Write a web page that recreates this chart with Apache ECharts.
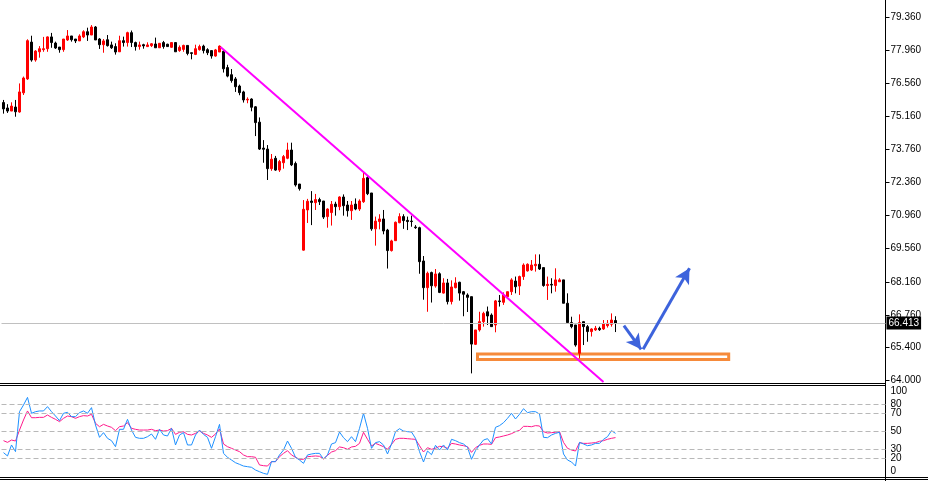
<!DOCTYPE html>
<html>
<head>
    <meta charset="utf-8">
    <title>Price chart</title>
    <script src="https://cdn.jsdelivr.net/npm/echarts@6/dist/echarts.min.js"></script>
    <style>
        html, body { margin: 0; padding: 0; background: #fff; }
        #main { width: 928px; height: 481px; }
    </style>
</head>
<body>
<div id="main"></div>
<script type="text/javascript">

    // candle values (open / close / low / high), one per bar
    var openPrices = [75.75, 75.52, 75.39, 75.56, 75.35, 76.16, 76.75, 78.31, 77.55, 77.90,
        77.99, 78.03, 78.53, 78.27, 78.10, 77.99, 78.40, 78.57, 78.44, 78.36,
        78.53, 78.75, 78.61, 78.95, 78.44, 78.20, 78.41, 78.19, 78.12, 77.90,
        78.37, 78.29, 78.71, 78.29, 78.12, 78.20, 78.12, 78.16, 78.23, 78.07,
        78.29, 78.22, 78.09, 78.29, 77.95, 78.00, 78.17, 77.86, 77.79, 77.99,
        78.14, 77.99, 77.95, 77.72, 77.89, 77.92, 77.23, 76.93, 76.75, 76.45,
        76.20, 75.86, 75.90, 75.57, 74.92, 73.82, 73.78, 72.95, 73.39, 72.89,
        73.20, 73.39, 73.74, 73.17, 72.30, 69.50, 71.20, 71.58, 71.51, 71.64,
        71.58, 70.92, 71.09, 71.45, 71.34, 71.75, 71.41, 71.17, 71.45, 71.24,
        71.55, 72.57, 71.92, 70.40, 70.71, 70.82, 70.35, 69.48, 69.90, 70.66,
        70.92, 70.76, 70.73, 70.48, 70.45, 69.04, 67.91, 68.55, 67.98, 68.50,
        67.68, 68.11, 67.32, 67.91, 68.14, 67.74, 67.60, 67.53, 65.51, 66.12,
        66.47, 66.89, 66.75, 66.33, 67.35, 67.29, 67.53, 67.74, 68.19, 67.98,
        68.38, 68.62, 68.66, 68.84, 68.90, 68.76, 68.00, 68.05, 68.00, 68.16,
        68.24, 67.25, 66.43, 66.33, 65.13, 66.47, 66.26, 66.05, 66.12, 66.19,
        66.16, 66.30, 66.36, 66.52];
    var closePrices = [75.48, 75.39, 75.60, 75.36, 76.20, 76.79, 78.37, 77.55, 77.93, 78.03,
        78.03, 78.53, 78.29, 78.06, 77.99, 78.44, 78.57, 78.41, 78.36, 78.57,
        78.75, 78.61, 78.95, 78.40, 78.20, 78.36, 78.16, 78.07, 77.89, 78.37,
        78.29, 78.71, 78.29, 78.12, 78.19, 78.15, 78.19, 78.24, 78.07, 78.26,
        78.12, 78.12, 78.29, 77.90, 78.09, 78.17, 77.83, 77.83, 78.03, 78.12,
        77.95, 77.86, 77.72, 77.98, 78.14, 77.18, 76.87, 76.68, 76.42, 76.17,
        75.86, 75.89, 75.55, 74.90, 73.78, 73.77, 72.95, 73.35, 72.89, 73.25,
        73.46, 73.74, 73.11, 72.26, 72.10, 71.23, 71.57, 71.52, 71.64, 71.55,
        70.90, 71.24, 71.44, 71.34, 71.75, 71.38, 71.17, 71.41, 71.24, 71.58,
        72.54, 71.89, 70.40, 70.73, 70.82, 70.31, 69.48, 69.89, 70.68, 70.92,
        70.75, 70.71, 70.71, 70.45, 69.01, 67.91, 68.52, 67.99, 68.49, 67.71,
        68.11, 67.32, 67.94, 68.11, 67.68, 67.63, 67.50, 65.52, 66.12, 66.47,
        66.82, 66.71, 66.26, 67.35, 67.32, 67.60, 67.74, 68.24, 67.95, 68.38,
        68.87, 68.90, 68.87, 68.90, 68.70, 68.00, 68.05, 68.02, 68.24, 68.24,
        67.25, 66.43, 66.26, 65.48, 66.43, 66.26, 66.05, 66.16, 66.19, 66.13,
        66.37, 66.40, 66.54, 66.41];
    var lowPrices = [75.28, 75.31, 75.39, 75.15, 75.32, 76.07, 76.71, 77.48, 77.48, 77.65,
        77.90, 77.90, 78.07, 78.02, 77.86, 77.90, 78.36, 78.33, 78.27, 78.36,
        78.48, 78.36, 78.61, 78.40, 78.02, 77.86, 78.12, 78.02, 77.78, 77.90,
        78.12, 78.12, 78.10, 77.95, 77.99, 78.03, 78.10, 78.10, 78.07, 78.07,
        78.03, 78.12, 78.07, 77.90, 77.90, 77.90, 77.75, 77.58, 77.76, 77.95,
        77.83, 77.76, 77.61, 77.69, 77.89, 77.02, 76.82, 76.59, 76.20, 76.06,
        75.75, 75.72, 75.38, 74.33, 73.74, 73.20, 72.47, 72.86, 72.86, 72.81,
        72.95, 73.35, 73.06, 72.19, 72.02, 69.48, 70.65, 70.56, 71.20, 71.41,
        70.82, 70.45, 70.54, 70.96, 71.19, 70.96, 70.92, 70.78, 71.19, 71.16,
        71.50, 71.83, 70.32, 69.69, 70.38, 70.17, 68.72, 69.44, 69.89, 70.64,
        70.40, 70.35, 70.49, 70.40, 68.50, 67.40, 66.89, 67.28, 67.91, 67.68,
        67.66, 67.20, 67.20, 67.88, 67.36, 66.70, 66.88, 64.28, 65.48, 66.05,
        66.26, 66.33, 66.26, 66.02, 67.11, 67.18, 67.46, 67.60, 67.67, 67.60,
        68.24, 68.59, 68.62, 68.59, 68.66, 67.95, 67.39, 67.67, 67.74, 68.16,
        67.25, 66.40, 66.19, 65.41, 64.92, 65.48, 65.62, 65.84, 66.08, 66.08,
        66.12, 66.22, 66.26, 66.03];
    var highPrices = [75.86, 75.68, 75.76, 75.86, 76.56, 76.85, 78.43, 78.58, 77.97, 78.14,
        78.53, 78.55, 78.70, 78.33, 78.10, 78.44, 78.82, 78.57, 78.44, 78.64,
        78.81, 78.92, 79.03, 78.99, 78.48, 78.44, 78.61, 78.33, 78.26, 78.58,
        78.54, 78.75, 78.80, 78.33, 78.33, 78.24, 78.30, 78.27, 78.50, 78.27,
        78.36, 78.24, 78.31, 78.31, 78.17, 78.20, 78.17, 77.86, 78.20, 78.20,
        78.20, 78.05, 77.95, 78.02, 78.17, 78.00, 77.35, 77.17, 76.83, 76.51,
        76.25, 75.97, 75.93, 75.60, 75.12, 74.16, 73.95, 73.57, 73.49, 73.32,
        73.53, 74.05, 74.05, 73.25, 72.30, 71.62, 71.67, 72.00, 71.88, 71.72,
        71.58, 71.27, 71.58, 71.55, 71.78, 71.86, 71.58, 71.58, 71.69, 71.65,
        72.79, 72.68, 71.92, 70.92, 71.02, 71.20, 70.40, 69.94, 70.71, 71.06,
        71.02, 70.92, 70.96, 70.56, 70.49, 69.25, 68.59, 68.59, 68.70, 68.56,
        68.31, 68.28, 68.22, 68.35, 68.16, 67.77, 67.67, 67.53, 66.12, 66.89,
        66.89, 67.11, 66.82, 67.39, 67.60, 67.71, 67.74, 68.31, 68.38, 68.42,
        68.94, 68.94, 69.08, 69.32, 69.32, 68.76, 68.38, 68.31, 68.73, 68.31,
        68.24, 67.67, 66.68, 66.33, 66.78, 66.47, 66.33, 66.19, 66.29, 66.26,
        66.54, 66.54, 66.82, 66.70];

    // oscillator panel: main line (blue) and its smoothed line (pink)
    var rsiValues = [26.3, 22.6, 34.8, 27.4, 71.8, 79.2, 87.7, 70.0, 71.8, 72.6,
        72.6, 77.4, 71.8, 67.0, 61.8, 70.0, 71.1, 66.3, 66.3, 70.7,
        72.6, 70.0, 76.3, 57.0, 43.3, 48.5, 42.2, 39.6, 32.9, 52.2,
        52.2, 63.3, 51.4, 43.3, 42.2, 42.2, 44.0, 47.0, 41.1, 52.2,
        45.9, 44.8, 53.3, 34.8, 45.9, 48.5, 34.8, 34.8, 45.9, 51.4,
        46.6, 43.3, 31.1, 44.0, 57.7, 25.5, 21.1, 18.1, 15.1, 13.3,
        11.4, 10.7, 10.0, 7.0, 5.1, 3.3, 2.2, 16.3, 16.3, 23.7,
        29.2, 39.2, 31.1, 21.1, 18.1, 14.4, 23.7, 24.8, 25.5, 25.5,
        19.2, 23.7, 35.9, 37.4, 49.2, 42.9, 38.5, 44.0, 38.5, 53.3,
        70.0, 53.3, 31.1, 37.4, 38.5, 34.8, 24.8, 35.9, 49.6, 52.9,
        50.3, 49.6, 49.2, 42.2, 27.4, 15.9, 28.1, 24.0, 34.4, 29.2,
        34.8, 29.2, 41.1, 39.6, 37.4, 35.9, 32.2, 18.9, 28.5, 34.8,
        40.3, 41.8, 35.9, 54.4, 56.3, 59.6, 64.4, 70.0, 63.7, 68.9,
        75.1, 70.7, 71.8, 71.8, 69.2, 43.3, 42.9, 45.9, 47.7, 48.9,
        24.8, 18.1, 15.9, 11.4, 37.7, 35.9, 34.0, 34.8, 36.6, 36.6,
        41.1, 44.0, 50.7, 47.7];
    var rsiSignal = [39.6, 37.7, 40.3, 39.2, 51.4, 62.6, 72.6, 65.1, 65.1, 65.5,
        65.5, 68.1, 65.5, 63.3, 60.7, 64.4, 67.0, 66.3, 64.4, 66.3,
        67.4, 67.0, 68.9, 58.9, 55.1, 57.7, 55.9, 54.4, 50.7, 55.1,
        55.9, 59.6, 53.3, 52.2, 51.4, 51.4, 51.4, 52.2, 50.7, 51.4,
        50.3, 50.7, 53.3, 46.6, 48.9, 49.6, 46.6, 45.9, 47.7, 50.3,
        47.7, 45.9, 43.3, 47.0, 52.6, 35.9, 32.9, 31.1, 29.2, 27.4,
        23.7, 21.8, 21.8, 21.1, 12.6, 11.8, 11.4, 16.3, 16.3, 21.8,
        25.5, 28.5, 23.7, 21.1, 18.9, 18.9, 21.8, 22.2, 22.6, 22.2,
        19.2, 23.3, 27.0, 28.5, 32.6, 31.8, 30.0, 32.6, 33.3, 36.6,
        48.9, 41.1, 33.7, 36.6, 34.8, 32.9, 30.0, 35.5, 41.1, 42.2,
        42.2, 41.8, 41.4, 41.1, 34.0, 27.0, 31.8, 30.0, 31.1, 33.3,
        32.9, 31.1, 36.6, 35.9, 34.8, 34.0, 32.9, 26.6, 31.8, 34.4,
        35.9, 35.9, 35.5, 42.9, 43.7, 44.8, 45.9, 47.4, 49.6, 51.1,
        55.5, 55.5, 55.1, 56.3, 55.9, 49.6, 48.1, 48.5, 48.9, 49.6,
        37.7, 31.1, 29.2, 28.1, 37.4, 36.6, 36.6, 37.0, 37.4, 38.9,
        39.6, 41.1, 42.2, 43.0];

    // axis ticks
    var priceTicks = [64.000, 65.400, 66.760, 68.160, 69.560, 70.960, 72.360, 73.760, 75.160, 76.560, 77.960, 79.360];
    var rsiTicks = [0, 20, 30, 50, 70, 80, 100];
    var rsiLevels = [20, 30, 50, 70, 80];
    var lastPrice = 66.413;

    // hand drawn objects, in [bar index, price]
    var trendLine = [[54.25, 78.105], [150, 63.915]];
    var supportBox = [[118.5, 65.10], [181.3, 64.868]];
    var arrowDown = [[155.1, 66.30], [159.4, 65.30]];
    var arrowUp = [[159.9, 65.30], [171.5, 68.73]];

    var slotCount = 221;
    var slots = [];
    for (var i = 0; i < slotCount; i++) {
        slots.push(String(i));
    }
    var candles = [];
    for (var i = 0; i < openPrices.length; i++) {
        candles.push([openPrices[i], closePrices[i], lowPrices[i], highPrices[i]]);
    }

    var fontFamily = 'Liberation Sans';
    var chart = echarts.init(document.getElementById('main'));

    var option = {
        animation: false,
        backgroundColor: '#ffffff',
        grid: [
            {left: 1.5, right: 42.5, top: 0, height: 382, outerBoundsMode: 'none'},
            {left: 1.5, right: 42.5, top: 386.3, height: 90, outerBoundsMode: 'none'}
        ],
        xAxis: [
            {type: 'category', gridIndex: 0, data: slots, boundaryGap: true, show: false, axisLine: {onZero: false}},
            {type: 'category', gridIndex: 1, data: slots, boundaryGap: true, show: false, axisLine: {onZero: false}},
            {type: 'value', gridIndex: 0, min: -0.5, max: slotCount - 0.5, show: false,
                axisLine: {onZero: false}, splitLine: {show: false}}
        ],
        yAxis: [
            {
                type: 'value', gridIndex: 0, position: 'right',
                min: 63.915, max: 80.093, scale: true,
                axisLine: {show: false, onZero: false},
                axisTick: {show: true, inside: false, length: 4, lineStyle: {color: '#000'}, customValues: priceTicks},
                axisLabel: {
                    show: true, margin: 5, color: '#000', fontSize: 10, fontFamily: fontFamily,
                    customValues: priceTicks,
                    formatter: function (v) { return v.toFixed(3); }
                },
                splitLine: {show: false}
            },
            {
                type: 'value', gridIndex: 1, position: 'right',
                min: 0, max: 100,
                axisLine: {show: false, onZero: false},
                axisTick: {show: false},
                axisLabel: {
                    show: true, margin: 5, color: '#000', fontSize: 10, fontFamily: fontFamily,
                    customValues: rsiTicks,
                    verticalAlignMinLabel: 'bottom',
                    verticalAlignMaxLabel: 'top'
                },
                splitLine: {show: false}
            }
        ],
        graphic: [
            {type: 'line', silent: true, shape: {x1: 885.5, y1: 0, x2: 885.5, y2: 481}, style: {stroke: '#000', lineWidth: 1}},
            {type: 'line', silent: true, shape: {x1: 0, y1: 383.5, x2: 886, y2: 383.5}, style: {stroke: '#000', lineWidth: 1}},
            {type: 'line', silent: true, shape: {x1: 0, y1: 385.5, x2: 886, y2: 385.5}, style: {stroke: '#000', lineWidth: 1}},
            {type: 'line', silent: true, shape: {x1: 0, y1: 477.5, x2: 928, y2: 477.5}, style: {stroke: '#000', lineWidth: 1}},
            {type: 'line', silent: true, shape: {x1: 0, y1: 479.5, x2: 928, y2: 479.5}, style: {stroke: '#000', lineWidth: 1}}
        ],
        series: [
            {
                name: 'price',
                type: 'candlestick',
                xAxisIndex: 0,
                yAxisIndex: 0,
                data: candles,
                barWidth: 2,
                itemStyle: {
                    color: '#ff0000',
                    color0: '#000000',
                    borderColor: '#ff0000',
                    borderColor0: '#000000',
                    borderWidth: 1
                },
                markLine: {
                    silent: true,
                    symbol: ['none', 'none'],
                    animation: false,
                    data: [{
                        yAxis: lastPrice,
                        lineStyle: {color: '#c0c0c0', width: 1, type: 'solid'},
                        label: {
                            show: true, position: 'end', distance: 1,
                            formatter: lastPrice.toFixed(3),
                            color: '#fff', backgroundColor: '#000',
                            padding: [2, 2, 1, 2], fontSize: 10, fontFamily: fontFamily
                        }
                    }]
                }
            },
            {
                name: 'drawings',
                type: 'line',
                xAxisIndex: 2,
                yAxisIndex: 0,
                data: [],
                z: 5,
                markArea: {
                    silent: true,
                    itemStyle: {color: 'rgba(0,0,0,0)', borderColor: '#f68a3a', borderWidth: 3},
                    data: [[{coord: supportBox[0]}, {coord: supportBox[1]}]]
                },
                markLine: {
                    silent: true,
                    symbol: ['none', 'none'],
                    label: {show: false},
                    data: [
                        [{coord: trendLine[0], lineStyle: {color: '#ff00ff', width: 2, type: 'solid'}},
                            {coord: trendLine[1]}],
                        [{coord: arrowDown[0], lineStyle: {color: '#3d63dc', width: 3, type: 'solid'}},
                            {coord: arrowDown[1], symbol: 'arrow', symbolSize: [12, 15]}],
                        [{coord: arrowUp[0], lineStyle: {color: '#3d63dc', width: 3, type: 'solid'}},
                            {coord: arrowUp[1], symbol: 'arrow', symbolSize: [12, 15]}]
                    ]
                }
            },
            {
                name: 'signal',
                type: 'line',
                xAxisIndex: 1,
                yAxisIndex: 1,
                data: rsiSignal,
                symbol: 'none',
                lineStyle: {color: '#ff1a8c', width: 1},
                markLine: {
                    silent: true,
                    symbol: ['none', 'none'],
                    label: {show: false},
                    lineStyle: {color: '#b8b8b8', width: 1, type: [5, 3]},
                    data: rsiLevels.map(function (v) { return {yAxis: v}; })
                }
            },
            {
                name: 'rsi',
                type: 'line',
                xAxisIndex: 1,
                yAxisIndex: 1,
                data: rsiValues,
                symbol: 'none',
                lineStyle: {color: '#1e90ff', width: 1}
            }
        ]
    };

    chart.setOption(option);

</script>
</body>
</html>
